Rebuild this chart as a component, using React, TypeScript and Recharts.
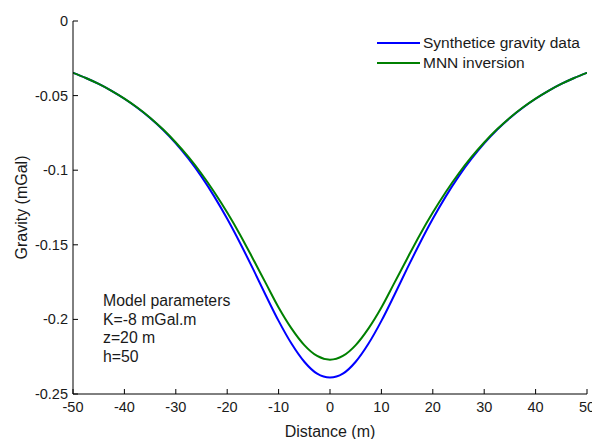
import { LineChart, Line, XAxis, YAxis, Legend, Customized } from "recharts"

// values
const distance = [
  -50, -47.5, -45, -42.5, -40, -37.5, -35, -32.5, -30, -27.5, -25, -22.5, -20, -17.5, -15, -12.5, -10, -7.5, -5, -2.5,
  0, 2.5, 5, 7.5, 10, 12.5, 15, 17.5, 20, 22.5, 25, 27.5, 30, 32.5, 35, 37.5, 40, 42.5, 45, 47.5, 50,
]
const synthetic = [
  -0.0347, -0.0382, -0.0422, -0.0468, -0.0521, -0.0581, -0.065, -0.0729, -0.082, -0.0925, -0.1043, -0.1177, -0.1326,
  -0.1488, -0.166, -0.1838, -0.201, -0.2162, -0.2284, -0.2364, -0.239, -0.2364, -0.2284, -0.2162, -0.201, -0.1838,
  -0.166, -0.1488, -0.1326, -0.1177, -0.1043, -0.0925, -0.082, -0.0729, -0.065, -0.0581, -0.0521, -0.0468, -0.0422,
  -0.0382, -0.0347,
]
const mnn = [
  -0.0347, -0.0382, -0.0422, -0.0468, -0.052, -0.058, -0.0648, -0.0726, -0.0814, -0.0913, -0.1024, -0.1148, -0.1284,
  -0.1432, -0.1593, -0.1757, -0.192, -0.206, -0.2172, -0.2245, -0.227, -0.2245, -0.2172, -0.206, -0.192, -0.1757,
  -0.1593, -0.1432, -0.1284, -0.1148, -0.1024, -0.0913, -0.0814, -0.0726, -0.0648, -0.058, -0.052, -0.0468, -0.0422,
  -0.0382, -0.0347,
]
const xTicks = [-50, -40, -30, -20, -10, 0, 10, 20, 30, 40, 50]
const yTicks = [0, -0.05, -0.1, -0.15, -0.2, -0.25]
const seriesNames = ["Synthetice gravity data", "MNN inversion"]
const seriesColors = ["#0000ff", "#008000"]
const paramLines = ["Model parameters", "K=-8 mGal.m", "z=20 m", "h=50"]

const data = distance.map((d, i) => ({ distance: d, synthetic: synthetic[i], mnn: mnn[i] }))

const FONT = "'Liberation Sans', Arial, Helvetica, sans-serif"
const TEXT = "#1a1a1a"

// MATLAB-style ticks: drawn inside the box
function BottomTick({ x, y, payload }: any) {
  return (
    <g>
      <line x1={x} y1={y} x2={x} y2={y - 5} stroke="#000" />
      <text x={x} y={y + 18} textAnchor="middle" fontSize={14.5} fill={TEXT} fontFamily={FONT}>
        {payload.value}
      </text>
    </g>
  )
}

function LeftTick({ x, y, payload }: any) {
  return (
    <g>
      <line x1={x} y1={y} x2={x + 5} y2={y} stroke="#000" />
      <text x={x - 5} y={y + 5} textAnchor="end" fontSize={14.5} fill={TEXT} fontFamily={FONT}>
        {payload.value}
      </text>
    </g>
  )
}

function TopTick({ x, y }: any) {
  return <line x1={x} y1={y} x2={x} y2={y + 5} stroke="#000" />
}

function RightTick({ x, y }: any) {
  return <line x1={x} y1={y} x2={x - 5} y2={y} stroke="#000" />
}

function LegendBox() {
  return (
    <div style={{ fontFamily: FONT, fontSize: 15.5, color: TEXT }}>
      {seriesNames.map((name, i) => (
        <div key={name} style={{ display: "flex", alignItems: "center", height: 19.5, whiteSpace: "nowrap" }}>
          <svg width={45} height={4} style={{ marginRight: 1 }}>
            <line x1={0} y1={2} x2={43} y2={2} stroke={seriesColors[i]} strokeWidth={2} />
          </svg>
          <span>{name}</span>
        </div>
      ))}
    </div>
  )
}

function Params() {
  return (
    <g>
      {paramLines.map((t, i) => (
        <text key={t} x={103} y={306 + i * 18.6} fontSize={15.8} fill={TEXT} fontFamily={FONT}>
          {t}
        </text>
      ))}
    </g>
  )
}

export default function App() {
  return (
    <div style={{ position: "absolute", left: 0, top: 0, background: "#fff" }}>
      <LineChart width={592} height={439} data={data} margin={{ top: 21, right: 5, left: 0, bottom: 0 }}>
        <XAxis
          dataKey="distance"
          type="number"
          domain={[-50, 50]}
          ticks={xTicks}
          interval={0}
          allowDataOverflow
          height={45}
          tickSize={0}
          tickMargin={0}
          axisLine={{ stroke: "#000" }}
          tick={<BottomTick />}
          label={{
            value: "Distance (m)",
            position: "insideBottom",
            offset: 2,
            style: { fontFamily: FONT, fontSize: 16, fill: TEXT },
          }}
        />
        <XAxis
          xAxisId="top"
          orientation="top"
          dataKey="distance"
          type="number"
          domain={[-50, 50]}
          ticks={xTicks}
          interval={0}
          allowDataOverflow
          height={0}
          tickSize={0}
          tickMargin={0}
          axisLine={{ stroke: "#000" }}
          tick={<TopTick />}
        />
        <YAxis
          type="number"
          domain={[-0.25, 0]}
          ticks={yTicks}
          interval={0}
          allowDataOverflow
          width={73}
          tickSize={0}
          tickMargin={0}
          axisLine={{ stroke: "#000" }}
          tick={<LeftTick />}
          label={{
            value: "Gravity (mGal)",
            angle: -90,
            position: "insideLeft",
            offset: 21,
            style: { fontFamily: FONT, fontSize: 16, fill: TEXT, textAnchor: "middle" },
          }}
        />
        <YAxis
          yAxisId="right"
          orientation="right"
          type="number"
          domain={[-0.25, 0]}
          ticks={yTicks}
          interval={0}
          allowDataOverflow
          width={0}
          tickSize={0}
          tickMargin={0}
          axisLine={{ stroke: "#000" }}
          tick={<RightTick />}
        />
        <Legend
          layout="vertical"
          align="center"
          verticalAlign="middle"
          wrapperStyle={{ top: 33.5, left: 377, width: 215 }}
          content={<LegendBox />}
        />
        <Line
          type="monotone"
          dataKey="synthetic"
          name={seriesNames[0]}
          stroke={seriesColors[0]}
          strokeWidth={2}
          dot={false}
          isAnimationActive={false}
        />
        <Line
          type="monotone"
          dataKey="mnn"
          name={seriesNames[1]}
          stroke={seriesColors[1]}
          strokeWidth={2}
          dot={false}
          isAnimationActive={false}
        />
        <Customized component={<Params />} />
      </LineChart>
    </div>
  )
}
